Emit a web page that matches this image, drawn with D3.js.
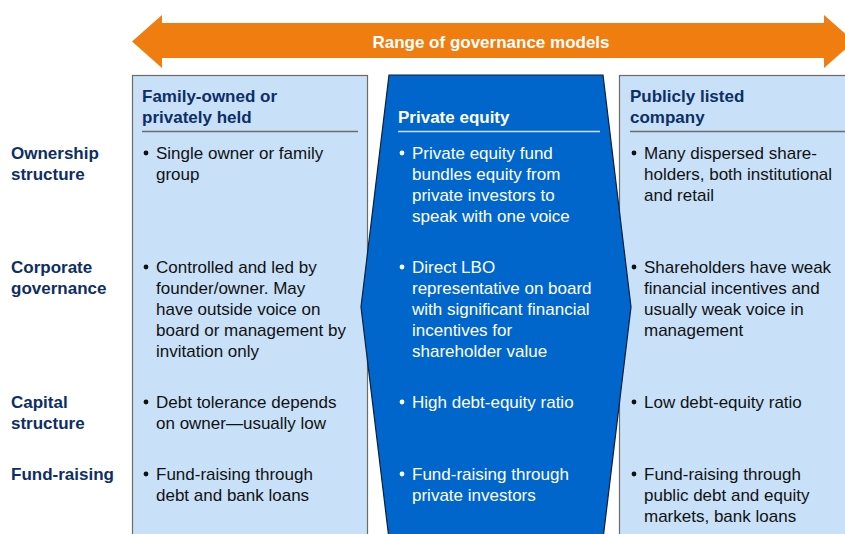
<!DOCTYPE html>
<html>
<head>
<meta charset="utf-8">
<script src="https://cdn.jsdelivr.net/npm/d3@7/dist/d3.min.js"></script>
<style>
  html, body { margin: 0; padding: 0; background: #fff; }
  svg { display: block; }
  text { font-family: "Liberation Sans", Arial, sans-serif; }
</style>
</head>
<body>
<svg id="chart" width="845" height="534"></svg>
<script>
// ---- data ----
const arrowLabel = "Range of governance models";
const columns = ["family", "pe", "public"];
const columnTitles = [["Family-owned or", "privately held"], ["Private equity"], ["Publicly listed", "company"]];
const rows = ["ownership", "governance", "capital", "funding"];
const rowLabels = [["Ownership", "structure"], ["Corporate", "governance"], ["Capital", "structure"], ["Fund-raising"]];
const familyCells = [
  ["Single owner or family", "group"],
  ["Controlled and led by", "founder/owner. May", "have outside voice on", "board or management by", "invitation only"],
  ["Debt tolerance depends", "on owner\u2014usually low"],
  ["Fund-raising through", "debt and bank loans"]
];
const peCells = [
  ["Private equity fund", "bundles equity from", "private investors to", "speak with one voice"],
  ["Direct LBO", "representative on board", "with significant financial", "incentives for", "shareholder value"],
  ["High debt-equity ratio"],
  ["Fund-raising through", "private investors"]
];
const publicCells = [
  ["Many dispersed share-", "holders, both institutional", "and retail"],
  ["Shareholders have weak", "financial incentives and", "usually weak voice in", "management"],
  ["Low debt-equity ratio"],
  ["Fund-raising through", "public debt and equity", "markets, bank loans"]
];

// ---- layout ----
const svg = d3.select("#chart");
const W = 845, H = 534;
const navy = "#0d2e66", lightBlue = "#c8e1f9", peBlue = "#0066cc", orange = "#f07d10";
const lineH = 21;

const colX = d3.scaleOrdinal().domain(columns).range([142, 398, 630]);
const rowY = d3.scaleOrdinal().domain(rows).range([159, 273, 408, 480]);

// side boxes
svg.append("rect").attr("x", 132.5).attr("y", 75.5).attr("width", 235).attr("height", H)
  .attr("fill", lightBlue).attr("stroke", "#6b6b6b").attr("stroke-width", 1.2);
svg.append("rect").attr("x", 619.5).attr("y", 75.5).attr("width", 260).attr("height", H)
  .attr("fill", lightBlue).attr("stroke", "#6b6b6b").attr("stroke-width", 1.2);

// PE hexagon
const hexPts = [[389, 75], [603, 75], [631, 307], [603, 539], [389, 539], [361, 307]];
svg.append("path").attr("d", d3.line()(hexPts) + "Z")
  .attr("fill", peBlue).attr("stroke", "#0a1f3f").attr("stroke-width", 1.2);

// arrow
const ax0 = 132, ax1 = 854, head = 30, sT = 23, sB = 58, hT = 15, hB = 68, mid = 41.5;
const arrowPts = [[ax0, mid], [ax0 + head, hT], [ax0 + head, sT], [ax1 - head, sT], [ax1 - head, hT],
  [ax1, mid], [ax1 - head, hB], [ax1 - head, sB], [ax0 + head, sB], [ax0 + head, hB]];
svg.append("path").attr("d", d3.line()(arrowPts) + "Z").attr("fill", orange);
svg.append("text").attr("x", 491).attr("y", 47.5)
  .attr("text-anchor", "middle").attr("fill", "#fff").attr("font-weight", "bold")
  .attr("font-size", 17).text(arrowLabel);

// column titles
const titleColor = d3.scaleOrdinal().domain(columns).range([navy, "#ffffff", navy]);
const ruleEnd = d3.scaleOrdinal().domain(columns).range([358, 600, 845]);
const ruleColor = d3.scaleOrdinal().domain(columns).range(["#6b6b6b", "#cfe3f7", "#6b6b6b"]);
columns.forEach((c, i) => {
  const lines = columnTitles[i];
  const t = svg.append("text").attr("font-weight", "bold").attr("font-size", 17)
    .attr("fill", titleColor(c));
  lines.forEach((l, j) => {
    t.append("tspan").attr("x", colX(c)).attr("y", 123 - (lines.length - 1 - j) * lineH).text(l);
  });
  svg.append("line").attr("x1", colX(c)).attr("x2", ruleEnd(c)).attr("y1", 131.5).attr("y2", 131.5)
    .attr("stroke", ruleColor(c)).attr("stroke-width", 1.3);
});

// row labels
rows.forEach((r, i) => {
  const t = svg.append("text").attr("font-weight", "bold").attr("font-size", 17).attr("fill", navy);
  rowLabels[i].forEach((l, j) => {
    t.append("tspan").attr("x", 11).attr("y", rowY(r) + j * lineH).text(l);
  });
});

// cells
const cellData = [familyCells, peCells, publicCells];
const textColor = d3.scaleOrdinal().domain(columns).range(["#111111", "#ffffff", "#111111"]);
columns.forEach((c, ci) => {
  rows.forEach((r, ri) => {
    const lines = cellData[ci][ri];
    const x = colX(c) + 4;
    svg.append("circle").attr("cx", x).attr("cy", rowY(r) - 6).attr("r", 2.4)
      .attr("fill", textColor(c));
    const t = svg.append("text").attr("font-size", 17).attr("fill", textColor(c));
    lines.forEach((l, j) => {
      t.append("tspan").attr("x", x + 10).attr("y", rowY(r) + j * lineH).text(l);
    });
  });
});
</script>
</body>
</html>
